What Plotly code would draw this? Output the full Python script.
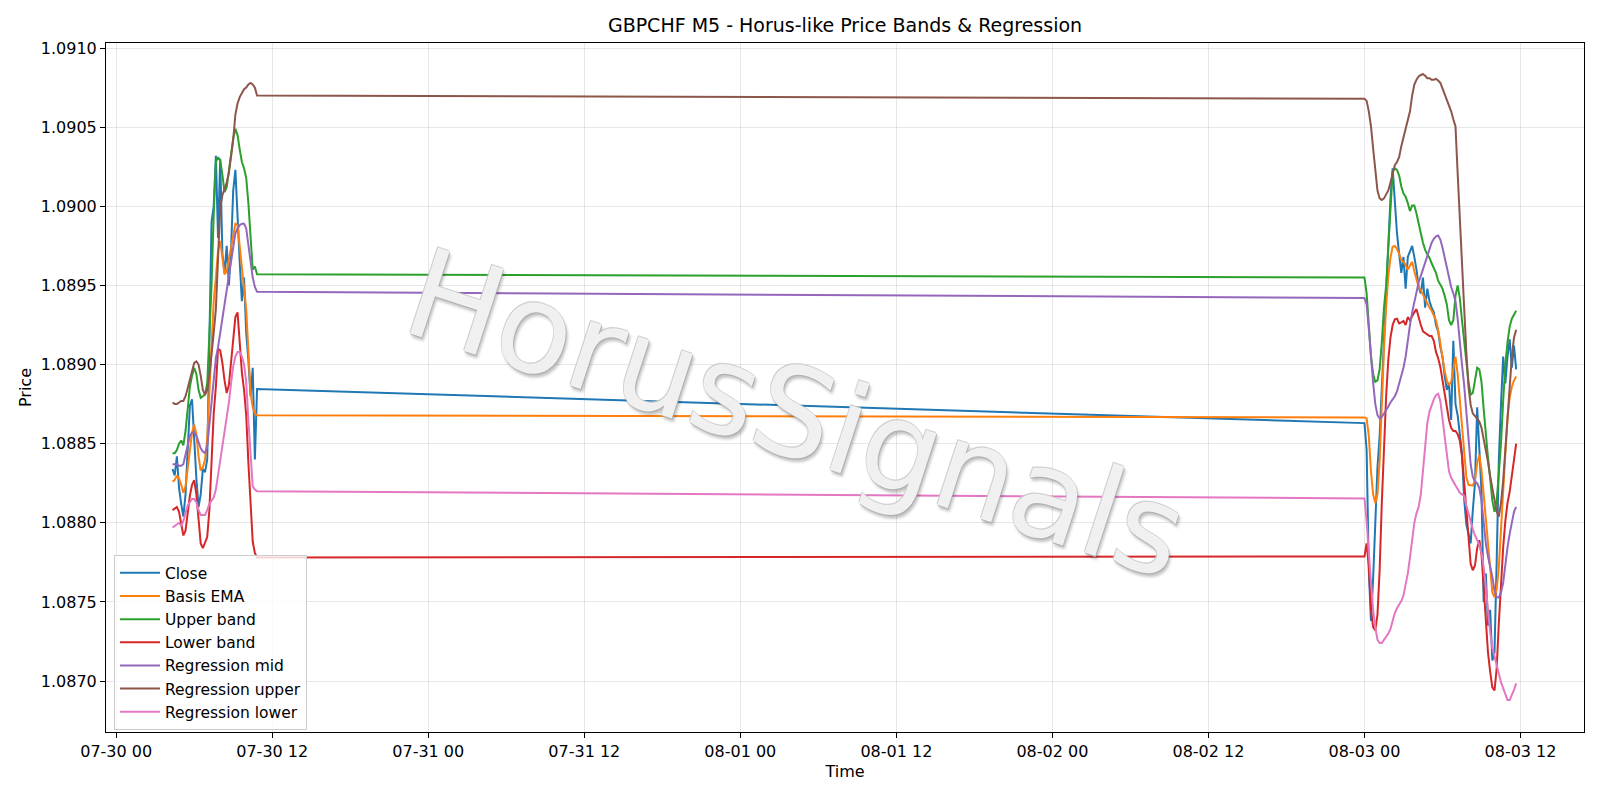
import pandas as pd
import plotly.graph_objects as go

# ---- time axis (5-minute bars sampled every 10 minutes, two sessions) ----
times_session1 = pd.date_range("2025-07-30 04:20", periods=40, freq="10min")
times_session2 = pd.date_range("2025-08-03 00:00", periods=71, freq="10min")

# ---- series values ----
close_s1 = [1.08834, 1.08830, 1.08842, 1.08822, 1.08812, 1.08804, 1.08818, 1.08848, 1.08874, 1.08878,
            1.08850, 1.08828, 1.08810, 1.08818, 1.08834, 1.08832, 1.08840, 1.08910, 1.08990, 1.09000,
            1.09032, 1.08980, 1.09030, 1.08970, 1.08958, 1.08975, 1.08950, 1.08973, 1.09010, 1.09023,
            1.08990, 1.08965, 1.08940, 1.08955, 1.08920, 1.08903, 1.08880, 1.08898, 1.08840, 1.088845]
close_s2 = [1.08863, 1.08846, 1.08770, 1.08738, 1.08765, 1.08800, 1.08835, 1.08855, 1.08884, 1.08915,
            1.08945, 1.08975, 1.09005, 1.09024, 1.09000, 1.08983, 1.08970, 1.08958, 1.08968, 1.08948,
            1.08968, 1.08972, 1.08975, 1.08968, 1.08960, 1.08949, 1.08945, 1.08955, 1.08936, 1.08948,
            1.08940, 1.08936, 1.08933, 1.08925, 1.08921, 1.08911, 1.08905, 1.08893, 1.08884, 1.08888,
            1.08865, 1.08915, 1.08875, 1.08868, 1.08854, 1.08844, 1.08815, 1.08799, 1.08793, 1.08787,
            1.08808, 1.08825, 1.08873, 1.08850, 1.08820, 1.08750, 1.08768, 1.08735, 1.08745, 1.08713,
            1.08718, 1.08775, 1.08840, 1.08875, 1.08905, 1.08888, 1.08905, 1.08916, 1.08898, 1.08912, 1.08897]

ema_s1 = [1.08826, 1.08827, 1.08830, 1.08828, 1.08824, 1.08819, 1.08823, 1.08834, 1.08846, 1.08857,
          1.08862, 1.08856, 1.08842, 1.08833, 1.08835, 1.08840, 1.08853, 1.08880, 1.08915, 1.08940,
          1.08955, 1.08972, 1.08978, 1.08969, 1.08957, 1.08959, 1.08967, 1.08974, 1.08982, 1.08989,
          1.08988, 1.08976, 1.08963, 1.08948, 1.08935, 1.08905, 1.08882, 1.08873, 1.08869, 1.08868]
ema_s2 = [1.088666, 1.08866, 1.08855, 1.088325, 1.08818, 1.088125, 1.08818, 1.08839, 1.08877, 1.089097,
          1.089365, 1.08956, 1.089675, 1.089745, 1.08975, 1.08973, 1.08970, 1.08966, 1.08965, 1.08963,
          1.08960, 1.08963, 1.08965, 1.08959, 1.08954, 1.08949, 1.08947, 1.08944, 1.08941, 1.08938,
          1.08936, 1.08934, 1.08931, 1.08928, 1.08922, 1.08913, 1.08903, 1.08896, 1.08890, 1.08887,
          1.08889, 1.08898, 1.08905, 1.08894, 1.08877, 1.08859, 1.08842, 1.08829, 1.08824, 1.088235,
          1.088235, 1.08827, 1.088375, 1.08843, 1.088335, 1.08818, 1.08802, 1.08785, 1.08768, 1.08756,
          1.08753, 1.08758, 1.08772, 1.087985, 1.08821, 1.088435, 1.08866, 1.08879, 1.08886, 1.08890, 1.088925]

upper_s1 = [1.08844, 1.08844, 1.08846, 1.08850, 1.08852, 1.08849, 1.08858, 1.08873, 1.08886, 1.08893,
            1.08898, 1.08894, 1.08884, 1.08879, 1.08880, 1.08881, 1.08888, 1.08915, 1.08950, 1.08995,
            1.09028, 1.09031, 1.09029, 1.09020, 1.09009, 1.09012, 1.09023, 1.09035, 1.09043, 1.09049,
            1.09045, 1.09036, 1.09028, 1.09024, 1.09018, 1.09002, 1.08980, 1.08960, 1.08962, 1.08957]
upper_s2 = [1.08955, 1.08945, 1.08925, 1.089055, 1.08894, 1.08889, 1.08890, 1.08897, 1.08914, 1.08936,
            1.08950, 1.08973, 1.09003, 1.09022, 1.09024, 1.09023, 1.090195, 1.090125, 1.09008, 1.09006,
            1.09002, 1.08997, 1.090005, 1.090005, 1.089955, 1.089885, 1.08983, 1.08977, 1.089725, 1.089697,
            1.089675, 1.08964, 1.08961, 1.08958, 1.08953, 1.08950, 1.08948, 1.089435, 1.08938, 1.08928,
            1.08925, 1.08928, 1.089435, 1.08950, 1.08942, 1.08928, 1.08914, 1.08901, 1.08889, 1.08881,
            1.08882, 1.08890, 1.08898, 1.08897, 1.08889, 1.08872, 1.08855, 1.08841, 1.08828, 1.08814,
            1.08807, 1.08814, 1.08831, 1.088505, 1.08877, 1.08900, 1.08914, 1.08924, 1.08929, 1.08932, 1.08934]

lower_s1 = [1.08808, 1.08809, 1.08810, 1.08807, 1.08800, 1.08792, 1.08795, 1.08806, 1.08817, 1.08824,
            1.08827, 1.08818, 1.08800, 1.08787, 1.08784, 1.08787, 1.08791, 1.08808, 1.08835, 1.08869,
            1.08886, 1.08910, 1.08909, 1.08901, 1.08890, 1.08882, 1.08887, 1.08901, 1.08915, 1.08930,
            1.08933, 1.08912, 1.08895, 1.08884, 1.08868, 1.08838, 1.08812, 1.08788, 1.08781, 1.08778]
lower_s2 = [1.087787, 1.08787, 1.08773, 1.08745, 1.08734, 1.08732, 1.08742, 1.08770, 1.088125, 1.08852,
            1.08880, 1.08903, 1.08917, 1.08925, 1.089286, 1.08929, 1.08926, 1.089266, 1.089275, 1.08925,
            1.08930, 1.08928, 1.08931, 1.08933, 1.08935, 1.08929, 1.08925, 1.08921, 1.08920, 1.08919,
            1.08918, 1.08918, 1.08915, 1.08908, 1.08904, 1.088985, 1.08890, 1.08882, 1.08873, 1.08865,
            1.08860, 1.08858, 1.08858, 1.08856, 1.08852, 1.08842, 1.08826, 1.08808, 1.08788, 1.08774,
            1.08770, 1.08773, 1.08784, 1.08789, 1.08780, 1.08760, 1.08736, 1.08718, 1.08706, 1.08696,
            1.08694, 1.08708, 1.087365, 1.08763, 1.087845, 1.08801, 1.088125, 1.088196, 1.088296, 1.08841, 1.08850]

reg_mid_s1 = [1.08837, 1.08837, 1.08837, 1.08836, 1.08836, 1.08837, 1.08843, 1.08851, 1.08855, 1.08857,
              1.08857, 1.08855, 1.08851, 1.08847, 1.08845, 1.08844, 1.08848, 1.08862, 1.08878, 1.08894,
              1.08904, 1.08911, 1.08920, 1.08929, 1.08938, 1.08948, 1.08959, 1.08968, 1.08976, 1.08983,
              1.08986, 1.08988, 1.08989, 1.08989, 1.08986, 1.08976, 1.08964, 1.08955, 1.08949, 1.08946]
reg_mid_s2 = [1.08942, 1.08938, 1.089225, 1.08903, 1.088886, 1.08875, 1.08868, 1.08866, 1.08867, 1.08869,
              1.08871, 1.088735, 1.08876, 1.08878, 1.08880, 1.08883, 1.08888, 1.08893, 1.08898, 1.08905,
              1.08916, 1.08925, 1.08933, 1.08940, 1.08947, 1.08952, 1.08956, 1.08960, 1.08964, 1.08969,
              1.08973, 1.08977, 1.089795, 1.08981, 1.089815, 1.08979, 1.08974, 1.08968, 1.08960, 1.08954,
              1.08949, 1.08945, 1.08940, 1.08929, 1.08913, 1.08900, 1.08887, 1.08870, 1.08853, 1.08837,
              1.08829, 1.08826, 1.08825, 1.08822, 1.08814, 1.08801, 1.08787, 1.087787, 1.08773, 1.08766,
              1.08757, 1.08753, 1.087527, 1.08756, 1.08762, 1.087745, 1.087845, 1.08793, 1.08801, 1.08807, 1.08810]

reg_upper_s1 = [1.08876, 1.08875, 1.08875, 1.08876, 1.08877, 1.08877, 1.08880, 1.08885, 1.08891, 1.08897,
                1.08901, 1.08902, 1.08900, 1.08893, 1.08884, 1.08881, 1.08884, 1.08893, 1.08905, 1.08920,
                1.08935, 1.08970, 1.08999, 1.09007, 1.09011, 1.09015, 1.09021, 1.09030, 1.09042, 1.09058,
                1.09065, 1.09069, 1.09072, 1.09074, 1.09075, 1.09077, 1.09078, 1.09077, 1.09075, 1.09070]
reg_upper_s2 = [1.09068, 1.090666, 1.09060, 1.090506, 1.090365, 1.09021, 1.09010, 1.09005, 1.09004, 1.09005,
                1.09008, 1.09010, 1.09015, 1.09021, 1.09026, 1.09028, 1.09031, 1.09038, 1.090435, 1.090486,
                1.09055, 1.09060, 1.09070, 1.09077, 1.09080, 1.09082, 1.09083, 1.090835, 1.090825, 1.09081,
                1.09081, 1.09080, 1.09080, 1.090805, 1.090795, 1.09078, 1.090745, 1.09071, 1.09067, 1.09063,
                1.09060, 1.09055, 1.090505, 1.09021, 1.08990, 1.08962, 1.08936, 1.08908, 1.08886, 1.088745,
                1.08869, 1.088675, 1.088655, 1.08864, 1.08860, 1.08853, 1.08846, 1.088385, 1.088295, 1.08821,
                1.08815, 1.08807, 1.08804, 1.088125, 1.088265, 1.08846, 1.08869, 1.088885, 1.08905, 1.08917, 1.08922]

reg_lower_s1 = [1.08797, 1.08798, 1.08799, 1.08800, 1.08798, 1.08801, 1.08806, 1.08811, 1.08813, 1.08815,
                1.08815, 1.08813, 1.08808, 1.08805, 1.08805, 1.08805, 1.08808, 1.08812, 1.08814, 1.08816,
                1.08821, 1.08830, 1.08838, 1.08848, 1.08856, 1.08866, 1.08876, 1.08888, 1.08899, 1.08905,
                1.08908, 1.08908, 1.08905, 1.08900, 1.08889, 1.08865, 1.08840, 1.08823, 1.08821, 1.08820]
reg_lower_s2 = [1.088154, 1.08801, 1.08781, 1.08760, 1.08745, 1.08734, 1.08726, 1.08724, 1.08724, 1.08726,
                1.08728, 1.08730, 1.08733, 1.08738, 1.08743, 1.08746, 1.087485, 1.087505, 1.08754, 1.08760,
                1.08768, 1.08778, 1.08790, 1.08800, 1.08806, 1.08810, 1.08818, 1.08834, 1.08848, 1.08863,
                1.088703, 1.088745, 1.08878, 1.088807, 1.088815, 1.08877, 1.08866, 1.08852, 1.088405, 1.088325,
                1.088284, 1.08826, 1.08824, 1.08821, 1.08819, 1.08818, 1.08817, 1.08811, 1.08806, 1.08800,
                1.08796, 1.08792, 1.08789, 1.08786, 1.08781, 1.08772, 1.08759, 1.08744, 1.08731, 1.08721,
                1.087155, 1.08709, 1.08703, 1.086993, 1.086955, 1.08691, 1.08688, 1.08688, 1.08691, 1.086944, 1.086985]

series_names = ["Close", "Basis EMA", "Upper band", "Lower band",
                "Regression mid", "Regression upper", "Regression lower"]
series_colors = ["#1f77b4", "#ff7f0e", "#2ca02c", "#d62728", "#9467bd", "#8c564b", "#e377c2"]

times = list(times_session1) + list(times_session2)
series_values = [
    close_s1 + close_s2,
    ema_s1 + ema_s2,
    upper_s1 + upper_s2,
    lower_s1 + lower_s2,
    reg_mid_s1 + reg_mid_s2,
    reg_upper_s1 + reg_upper_s2,
    reg_lower_s1 + reg_lower_s2,
]

FONT = "DejaVu Sans"
TICK_SIZE = 16
LABEL_SIZE = 16

fig = go.Figure()
for name, color, vals in zip(series_names, series_colors, series_values):
    fig.add_trace(go.Scatter(x=times, y=vals, mode="lines", name=name,
                             line=dict(color=color, width=2)))

grid_color = "rgba(176,176,176,0.3)"
fig.update_layout(
    width=1600, height=800,
    margin=dict(l=106, r=16, t=43, b=68),
    paper_bgcolor="white", plot_bgcolor="white",
    font=dict(family=FONT, size=TICK_SIZE, color="black"),
    title=dict(text="GBPCHF M5 - Horus-like Price Bands & Regression",
               x=0.5, xref="paper", xanchor="center",
               y=1 - 25.5 / 800, yref="container", yanchor="middle",
               font=dict(family=FONT, size=19, color="black")),
    showlegend=True,
    legend=dict(x=0.0054, y=0.0025, xanchor="left", yanchor="bottom",
                bgcolor="rgba(255,255,255,0.8)", bordercolor="#cccccc", borderwidth=1,
                font=dict(family=FONT, size=15.5), itemwidth=40),
    xaxis=dict(
        range=["2025-07-29 23:13", "2025-08-03 16:53"],
        tick0="2025-07-30 00:00", dtick=12 * 3600 * 1000, tickformat="%m-%d %H",
        showgrid=True, gridcolor=grid_color, gridwidth=1,
        showline=True, linecolor="black", linewidth=1, mirror=True,
        ticks="outside", ticklen=5, tickwidth=1, tickcolor="black",
        zeroline=False, tickfont=dict(family=FONT, size=TICK_SIZE),
        title=dict(text="Time", standoff=5, font=dict(family=FONT, size=LABEL_SIZE)),
    ),
    yaxis=dict(
        range=[1.086678, 1.091032],
        tick0=1.087, dtick=0.0005, tickformat=".4f",
        showgrid=True, gridcolor=grid_color, gridwidth=1,
        showline=True, linecolor="black", linewidth=1, mirror=True,
        ticks="outside", ticklen=5, tickwidth=1, tickcolor="black",
        zeroline=False, tickfont=dict(family=FONT, size=TICK_SIZE),
        title=dict(text="Price", standoff=5, font=dict(family=FONT, size=LABEL_SIZE)),
    ),
)

# watermark
fig.add_annotation(
    text="HorusSignals", xref="paper", yref="paper", x=0.4675, y=0.462,
    xanchor="center", yanchor="middle", showarrow=False, textangle=18,
    font=dict(family=FONT, size=124, color="rgba(255,255,255,0.85)",
              shadow="0 0 1px #999999, 1px 1px 0 #b0b0b0, -1px -1px 0 #d0d0d0, 3px 3px 3px rgba(0,0,0,0.28)"),
)

fig.write_html("out.html",
               config={"displayModeBar": False},
               post_script="document.body.style.margin='0px';document.body.style.overflow='hidden';")
